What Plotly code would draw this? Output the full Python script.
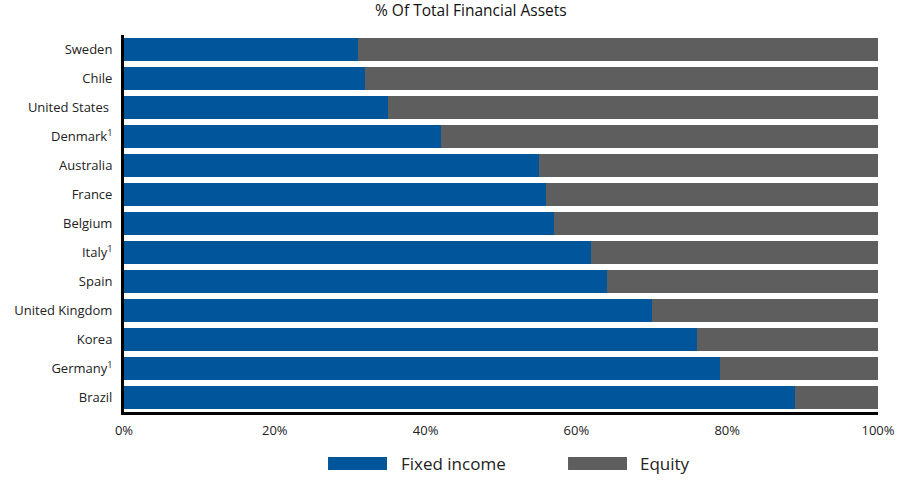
import plotly.graph_objects as go

countries = ["Sweden", "Chile", "United States ", "Denmark<sup>1</sup>", "Australia", "France",
             "Belgium", "Italy<sup>1</sup>", "Spain", "United Kingdom", "Korea",
             "Germany<sup>1</sup>", "Brazil"]
fixed_income = [31, 32, 35, 42, 55, 56, 57, 62, 64, 70, 76, 79, 89]
equity = [100 - v for v in fixed_income]
x_ticks = [0, 20, 40, 60, 80, 100]
x_tick_labels = ["0%", "20%", "40%", "60%", "80%", "100%"]
series_names = ["Fixed income", "Equity"]

BLUE = "#01559a"
GRAY = "#5e5e5e"
FONT = "Open Sans"

fig = go.Figure()
fig.add_trace(go.Bar(y=countries, x=fixed_income, orientation="h", name=series_names[0],
                     marker=dict(color=BLUE, line=dict(width=0)), width=0.76, showlegend=False))
fig.add_trace(go.Bar(y=countries, x=equity, orientation="h", name=series_names[1],
                     marker=dict(color=GRAY, line=dict(width=0)), width=0.76, showlegend=False))

# custom legend (wide swatches as in the reference)
legend_items = [(series_names[0], BLUE, 0.2706, 0.3488, 0.3647),
                (series_names[1], GRAY, 0.5889, 0.6671, 0.6817)]
for name, col, x0, x1, xt in legend_items:
    fig.add_shape(type="rect", xref="paper", yref="paper", x0=x0, x1=x1, y0=-0.1538, y1=-0.1194,
                  fillcolor=col, line=dict(width=0))
    fig.add_annotation(text=name, xref="paper", yref="paper", x=xt, y=-0.1366,
                       xanchor="left", yanchor="middle", showarrow=False,
                       font=dict(size=17, color="#222222"))

fig.add_annotation(text="% Of Total Financial Assets", xref="paper", yref="paper",
                   x=0.46, y=1.066, xanchor="center", yanchor="middle", showarrow=False,
                   font=dict(size=15.5, color="#111111"))

fig.update_layout(
    barmode="stack",
    width=900, height=483,
    margin=dict(l=124, r=22, t=35, b=71, autoexpand=False),
    paper_bgcolor="white", plot_bgcolor="white",
    font=dict(family=FONT, size=13, color="#222222"),
    showlegend=False,
)
fig.update_xaxes(range=[0, 100], tickvals=x_ticks, ticktext=x_tick_labels, automargin=False,
                 showgrid=False, zeroline=False, showline=True, linecolor="black",
                 linewidth=3, ticks="", ticklabelstandoff=4, tickfont=dict(size=13))
fig.update_yaxes(categoryorder="array", categoryarray=countries[::-1], automargin=False,
                 showgrid=False, zeroline=False, showline=True, linecolor="black",
                 linewidth=3, ticks="", ticklabelstandoff=6, tickfont=dict(size=13))

fig.write_html("out.html", config={"displayModeBar": False},
               post_script="document.body.style.margin='0';document.body.style.overflow='hidden';")
